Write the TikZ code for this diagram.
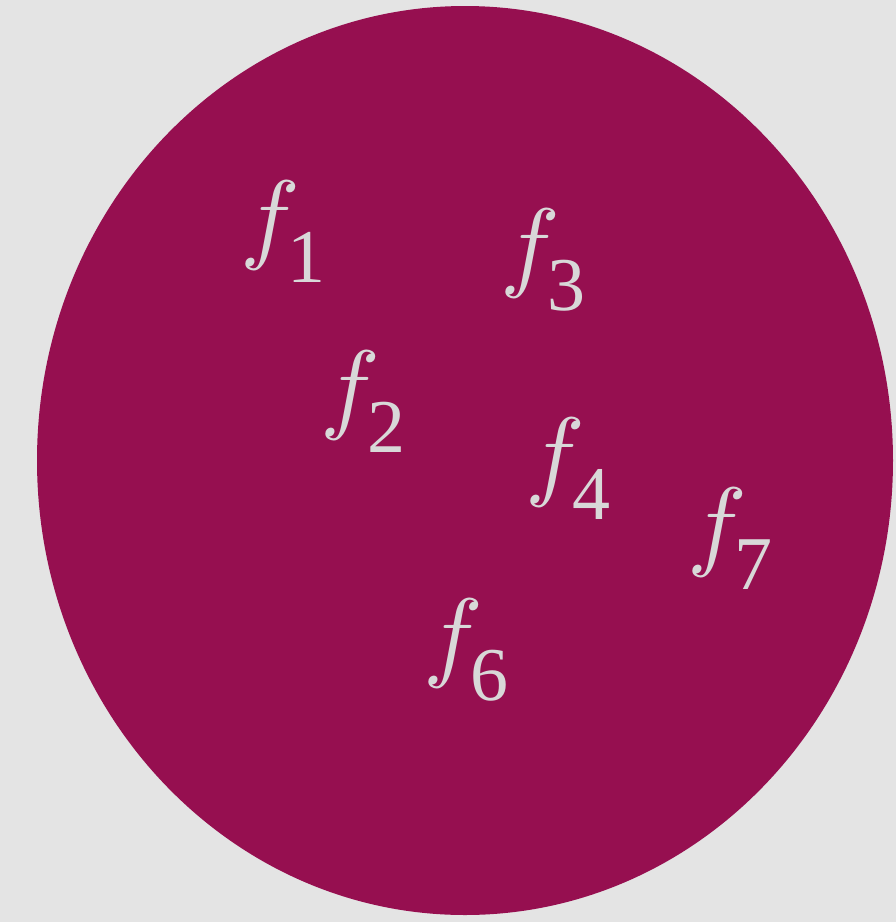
\documentclass[tikz,border=0pt]{standalone}
\usepackage{fontspec}
\setmainfont{Liberation Serif}
\definecolor{bg}{RGB}{228,228,228}
\definecolor{blob}{RGB}{150,15,80}
\definecolor{lab}{RGB}{216,216,216}
\newcommand{\flabel}[1]{\makebox[47pt][l]{\scalebox{10}{$f$}}\raisebox{-32pt}{\fontsize{76pt}{76pt}\selectfont #1}}
\tikzset{flab/.style={anchor=base west, inner sep=0pt, text=lab}}
\begin{document}
\begin{tikzpicture}[x=1pt,y=-1pt]
\fill[bg] (0,0) rectangle (896,922);
\useasboundingbox (0,0) rectangle (896,922);
\fill[blob] (465,460.5) ellipse [x radius=428, y radius=454.5];
\node[flab] (f1) at (240,250) {\flabel{1}};
\node[flab] (f3) at (500,278) {\flabel{3}};
\node[flab] (f2) at (320,420) {\flabel{2}};
\node[flab] (f4) at (525,487) {\flabel{4}};
\node[flab] (f7) at (687,557) {\flabel{7}};
\node[flab] (f6) at (423,668) {\flabel{6}};
\end{tikzpicture}
\end{document}
